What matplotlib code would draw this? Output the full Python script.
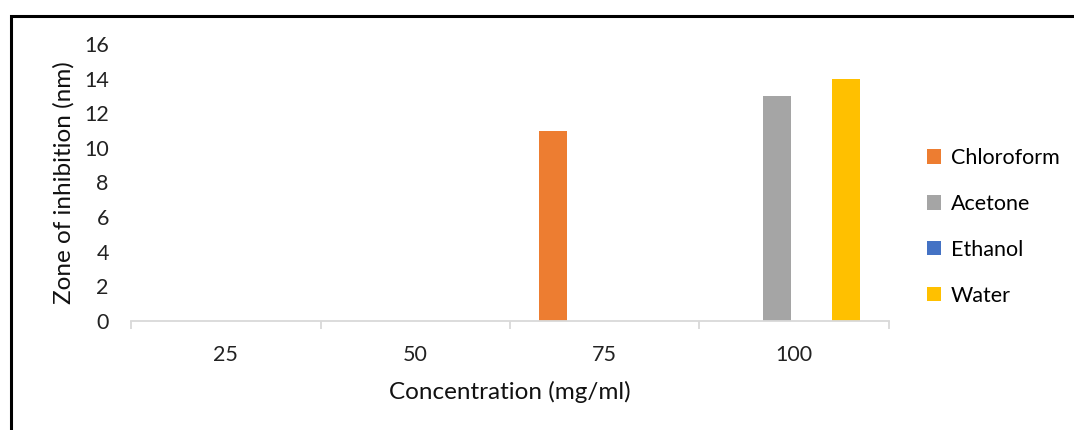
import numpy as np
import matplotlib.pyplot as plt
from matplotlib.patches import Rectangle

plt.rcParams['font.family'] = ['Lato', 'DejaVu Sans']

concentrations = ['25', '50', '75', '100']
solvents = ['Chloroform', 'Acetone', 'Ethanol', 'Water']
colors = ['#ED7D31', '#A5A5A5', '#4472C4', '#FFC000']
zone = {
    'Chloroform': [0, 0, 11, 0],
    'Acetone': [0, 0, 0, 13],
    'Ethanol': [0, 0, 0, 0],
    'Water': [0, 0, 0, 14],
}

fig = plt.figure(figsize=(10.74, 4.3), dpi=100)
ax = fig.add_axes([0.122, 0.2535, 0.7057, 0.6442])

x = np.arange(len(concentrations))
step = 0.182
width = 0.145
for i, name in enumerate(solvents):
    ax.bar(x + (i - 1.5) * step, zone[name], width, color=colors[i], label=name)

ax.set_xlim(-0.5, 3.5)
ax.set_ylim(0, 16)
ax.set_yticks(range(0, 17, 2))
ax.set_xticks(x)
ax.set_xticklabels(concentrations)
ax.tick_params(axis='x', length=0, labelsize=15.5, pad=17, colors='#222222')
ax.tick_params(axis='y', length=0, labelsize=15.5, pad=16, colors='#222222')
ax.set_xticks(np.arange(-0.5, 4, 1), minor=True)
ax.tick_params(axis='x', which='minor', length=6, width=1.3, color='#D9D9D9')

for side in ['top', 'right', 'left']:
    ax.spines[side].set_visible(False)
ax.spines['bottom'].set_color('#D9D9D9')
ax.spines['bottom'].set_linewidth(1.3)

ax.set_xlabel('Concentration (mg/ml)', fontsize=17.5, labelpad=12, color='#111111')
ax.set_ylabel('Zone of inhibition (nm)', fontsize=17.5, labelpad=7, color='#111111')

ax.legend(loc='center left', bbox_to_anchor=(1.025, 0.34), frameon=False,
          fontsize=15.5, handlelength=0.65, handleheight=0.65, handletextpad=0.45,
          labelspacing=1.2)

# outer frame, runs off the right and bottom edges
fig.patches.append(Rectangle((10.5 / 1074, -0.1), 1.2, 0.1 + 1 - 16 / 430,
                             transform=fig.transFigure, fill=False,
                             edgecolor='black', linewidth=2.2))

fig.savefig('out.png', dpi=100)
